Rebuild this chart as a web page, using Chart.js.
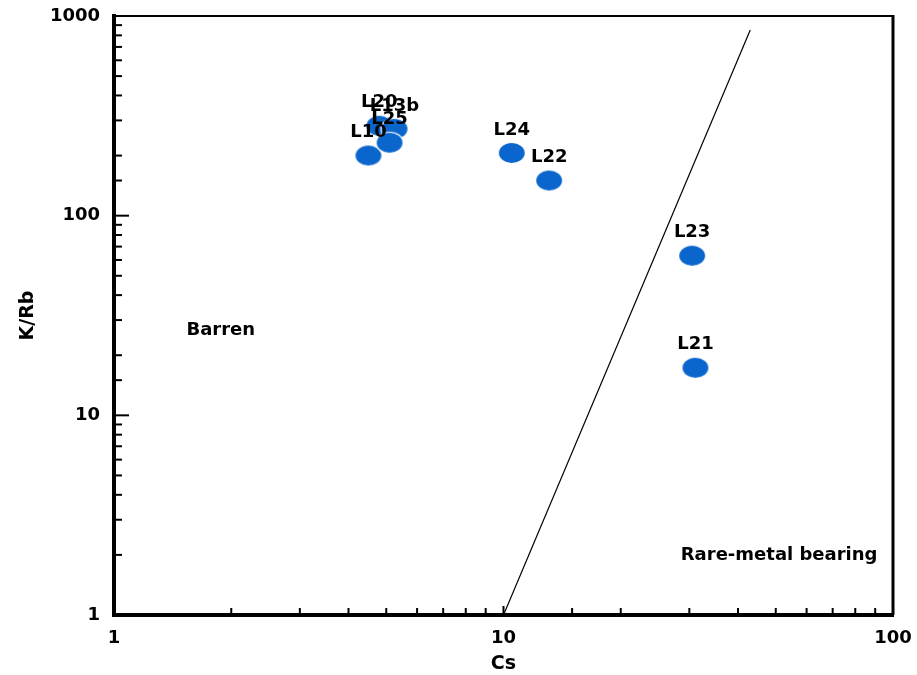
<!DOCTYPE html>
<html lang="en">
<head>
    <meta charset="UTF-8">
    <title>K/Rb vs Cs</title>
    <script src="https://cdnjs.cloudflare.com/ajax/libs/Chart.js/4.4.1/chart.umd.min.js"></script>
    <style>
        html, body { margin: 0; padding: 0; background: #fff; }
        #wrap { width: 917px; height: 675px; }
    </style>
</head>
<body>
    <div id="wrap"><canvas id="chart" width="917" height="675"></canvas></div>

    <script>
        // samples
        const sampleNames = ['L10', 'L20', 'L13b', 'L25', 'L24', 'L22', 'L23', 'L21'];
        const csValues    = [4.5, 4.8, 5.25, 5.1, 10.5, 13.1, 30.5, 31.1];
        const kRbValues   = [200, 282, 272, 232, 206, 150, 63, 17.3];

        // barren / rare-metal boundary
        const boundaryCs  = [10, 43];
        const boundaryKRb = [1, 850];

        // field names
        const fieldNames = ['Barren', 'Rare-metal bearing'];
        const fieldCs    = [1.88, 51];
        const fieldKRb   = [26.6, 2.0];

        const xTickLabels = [1, 10, 100];
        const yTickLabels = [1, 10, 100, 1000];

        const FONT = 'DejaVu Sans';
        const BLUE = '#0a66cc';

        // ellipse marker
        function makeDot() {
            const c = document.createElement('canvas');
            c.width = 30; c.height = 24;
            const g = c.getContext('2d');
            g.beginPath();
            g.ellipse(15, 12, 13.5, 10.5, 0, 0, Math.PI * 2);
            g.fillStyle = BLUE;
            g.fill();
            g.strokeStyle = '#ffffff';
            g.lineWidth = 1.2;
            g.stroke();
            return c;
        }
        const dot = makeDot();

        // inward tick marks, frame, point labels and field names
        const extras = {
            id: 'extras',
            afterDatasetsDraw(chart) {
                const ctx = chart.ctx;
                const xs = chart.scales.x, ys = chart.scales.y;
                const a = chart.chartArea;
                ctx.save();
                ctx.strokeStyle = '#000';
                ctx.lineWidth = 2;
                xs.ticks.forEach(t => {
                    const px = xs.getPixelForValue(t.value);
                    const major = xTickLabels.includes(t.value);
                    ctx.beginPath();
                    ctx.moveTo(px, a.bottom);
                    ctx.lineTo(px, a.bottom - (major ? 9 : 7));
                    ctx.stroke();
                });
                ys.ticks.forEach(t => {
                    const py = ys.getPixelForValue(t.value);
                    const major = yTickLabels.includes(t.value);
                    ctx.beginPath();
                    ctx.moveTo(a.left, py);
                    ctx.lineTo(a.left + (major ? 15 : 8), py);
                    ctx.stroke();
                });
                // top and right frame
                ctx.beginPath();
                ctx.moveTo(a.left, a.top);
                ctx.lineTo(a.right, a.top);
                ctx.stroke();
                ctx.lineWidth = 3;
                ctx.beginPath();
                ctx.moveTo(a.right, a.top - 1);
                ctx.lineTo(a.right, a.bottom);
                ctx.stroke();

                ctx.fillStyle = '#000';
                ctx.font = 'bold 18px ' + FONT;
                ctx.textAlign = 'center';
                ctx.textBaseline = 'middle';
                sampleNames.forEach((n, i) => {
                    const px = xs.getPixelForValue(csValues[i]);
                    const py = ys.getPixelForValue(kRbValues[i]);
                    ctx.fillText(n, px, py - 23);
                });
                fieldNames.forEach((n, i) => {
                    ctx.fillText(n, xs.getPixelForValue(fieldCs[i]), ys.getPixelForValue(fieldKRb[i]));
                });
                ctx.restore();
            }
        };

        new Chart(document.getElementById('chart'), {
            type: 'scatter',
            data: {
                datasets: [
                    {
                        label: 'samples',
                        data: csValues.map((x, i) => ({ x: x, y: kRbValues[i] })),
                        pointStyle: dot,
                        pointRadius: 12
                    },
                    {
                        label: 'boundary',
                        data: boundaryCs.map((x, i) => ({ x: x, y: boundaryKRb[i] })),
                        showLine: true,
                        borderColor: '#000',
                        borderWidth: 1.2,
                        pointRadius: 0
                    }
                ]
            },
            options: {
                responsive: false,
                animation: false,
                layout: { padding: { top: 16, right: 24, left: 0, bottom: 0 } },
                plugins: {
                    legend: { display: false },
                    tooltip: { enabled: false }
                },
                scales: {
                    x: {
                        type: 'logarithmic',
                        min: 1, max: 100,
                        grid: { display: false, drawTicks: false },
                        border: { display: true, color: '#000', width: 4 },
                        ticks: {
                            autoSkip: false,
                            maxRotation: 0,
                            padding: 13,
                            color: '#000',
                            font: { family: FONT, size: 18, weight: 'bold' },
                            callback: v => xTickLabels.includes(v) ? String(v) : ''
                        },
                        title: {
                            display: true,
                            text: 'Cs',
                            color: '#000',
                            padding: { top: 1, bottom: 0 },
                            font: { family: FONT, size: 19, weight: 'bold' }
                        },
                        afterFit: s => {
                            s.height = 60;
                            s.paddingLeft = 0;
                            s.paddingRight = 0;
                        }
                    },
                    y: {
                        type: 'logarithmic',
                        min: 1, max: 1000,
                        grid: { display: false, drawTicks: false },
                        border: { display: true, color: '#000', width: 4 },
                        ticks: {
                            autoSkip: false,
                            padding: 14,
                            color: '#000',
                            font: { family: FONT, size: 18, weight: 'bold' },
                            callback: v => yTickLabels.includes(v) ? String(v) : ''
                        },
                        title: {
                            display: true,
                            text: 'K/Rb',
                            color: '#000',
                            padding: { top: 17, bottom: 0 },
                            font: { family: FONT, size: 19, weight: 'bold' }
                        },
                        afterFit: s => {
                            s.width = 114;
                            s.paddingTop = 0;
                            s.paddingBottom = 0;
                        }
                    }
                }
            },
            plugins: [extras]
        });
    </script>
</body>
</html>
